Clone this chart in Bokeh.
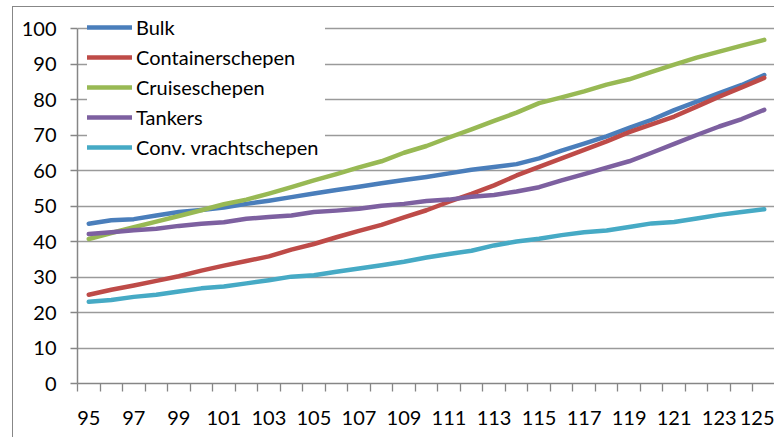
from bokeh.plotting import figure
from bokeh.models import Range1d, FixedTicker, Legend, LegendItem
from bokeh.embed import file_html
from bokeh.resources import INLINE

years = list(range(95, 126))
tick_labels = [str(v) for v in range(95, 126, 2)]
y_ticks = list(range(0, 101, 10))

series_names = ["Bulk", "Containerschepen", "Cruiseschepen", "Tankers", "Conv. vrachtschepen"]
colors = ["#4A7EBB", "#BE4B48", "#98B954", "#7D60A0", "#46AAC5"]

bulk = [45.0, 46.0, 46.3, 47.3, 48.3, 48.9, 49.6, 50.6, 51.5, 52.5, 53.5, 54.5, 55.4, 56.4, 57.3, 58.2,
        59.2, 60.2, 61.0, 61.8, 63.4, 65.6, 67.6, 69.6, 72.0, 74.3, 77.0, 79.4, 81.8, 84.1, 86.9]
container = [25.0, 26.4, 27.6, 28.9, 30.2, 31.8, 33.2, 34.5, 35.8, 37.7, 39.3, 41.2, 43.0, 44.7, 46.8, 48.8,
             51.2, 53.4, 55.8, 58.6, 61.0, 63.4, 65.8, 68.2, 70.8, 73.0, 75.2, 78.0, 80.8, 83.4, 86.1]
cruise = [40.7, 42.4, 44.0, 45.6, 47.2, 48.8, 50.5, 51.8, 53.5, 55.3, 57.2, 59.0, 60.9, 62.6, 65.0, 66.9,
          69.3, 71.6, 74.0, 76.3, 79.0, 80.6, 82.3, 84.2, 85.7, 87.8, 89.8, 91.8, 93.5, 95.2, 96.8]
tankers = [42.1, 42.6, 43.2, 43.6, 44.4, 45.0, 45.4, 46.4, 46.9, 47.3, 48.3, 48.7, 49.2, 50.1, 50.6, 51.4,
           51.8, 52.6, 53.1, 54.1, 55.3, 57.2, 59.0, 60.8, 62.6, 65.0, 67.5, 70.0, 72.4, 74.5, 77.1]
conv = [23.0, 23.5, 24.4, 25.0, 25.9, 26.8, 27.3, 28.2, 29.1, 30.1, 30.5, 31.5, 32.4, 33.3, 34.3, 35.5,
        36.5, 37.4, 38.9, 40.0, 40.8, 41.8, 42.6, 43.1, 44.1, 45.1, 45.5, 46.5, 47.5, 48.3, 49.1]
series = [bulk, container, cruise, tankers, conv]

FONT = "Lato"
FSIZE = "20px"

p = figure(width=762, height=431, output_backend="svg", toolbar_location=None,
           x_range=Range1d(years[0] - 0.5, years[-1] + 0.5), y_range=Range1d(0, 105.92),
           min_border_left=64, min_border_right=0, min_border_top=0, min_border_bottom=55)
p.outline_line_color = None
p.background_fill_color = "white"
p.border_fill_color = "white"

renderers = []
for name, vals, col in zip(series_names, series, colors):
    r = p.line(years, vals, line_color=col, line_width=4.5, line_cap="round", line_join="round")
    renderers.append(r)

# x axis: labels on every other category, tick marks on category boundaries
xa = p.xaxis[0]
xa.ticker = FixedTicker(ticks=[int(t) for t in tick_labels],
                        minor_ticks=[y - 0.5 for y in years] + [years[-1] + 0.5])
xa.major_label_overrides = {int(t): t for t in tick_labels}
xa.major_tick_out = 0
xa.major_tick_in = 0
xa.minor_tick_out = 8
xa.minor_tick_in = 0
xa.minor_tick_line_color = "#868686"
xa.minor_tick_line_width = 1.3
xa.axis_line_color = "#868686"
xa.axis_line_width = 1.5
xa.major_label_standoff = 19
xa.major_label_text_font = FONT
xa.major_label_text_font_size = FSIZE
xa.major_label_text_color = "#000000"

ya = p.yaxis[0]
ya.ticker = FixedTicker(ticks=y_ticks, minor_ticks=[])
ya.bounds = (0, 100)
ya.major_tick_out = 7
ya.major_tick_in = 0
ya.major_tick_line_color = "#868686"
ya.major_tick_line_width = 1.3
ya.minor_tick_out = 0
ya.axis_line_color = "#868686"
ya.axis_line_width = 1.5
ya.major_label_standoff = 14
ya.major_label_text_font = FONT
ya.major_label_text_font_size = FSIZE
ya.major_label_text_color = "#000000"

p.xgrid.visible = False
p.ygrid.ticker = FixedTicker(ticks=y_ticks)
p.ygrid.grid_line_color = "#9a9a9a"
p.ygrid.grid_line_width = 1.3

legend = Legend(items=[LegendItem(label=n, renderers=[r]) for n, r in zip(series_names, renderers)],
                location=(10, 222), padding=3, spacing=2, margin=0,
                glyph_width=45, glyph_height=28, label_height=28, label_width=189,
                label_standoff=4, label_text_font=FONT, label_text_font_size=FSIZE,
                label_text_color="#000000", border_line_color=None,
                background_fill_color="white", background_fill_alpha=1.0)
p.add_layout(legend)

p.styles = {"margin-left": "12px", "margin-top": "6px",
            "border-left": "1px solid #878787", "border-top": "1px solid #878787"}

open("out.html", "w").write(file_html(p, INLINE))
